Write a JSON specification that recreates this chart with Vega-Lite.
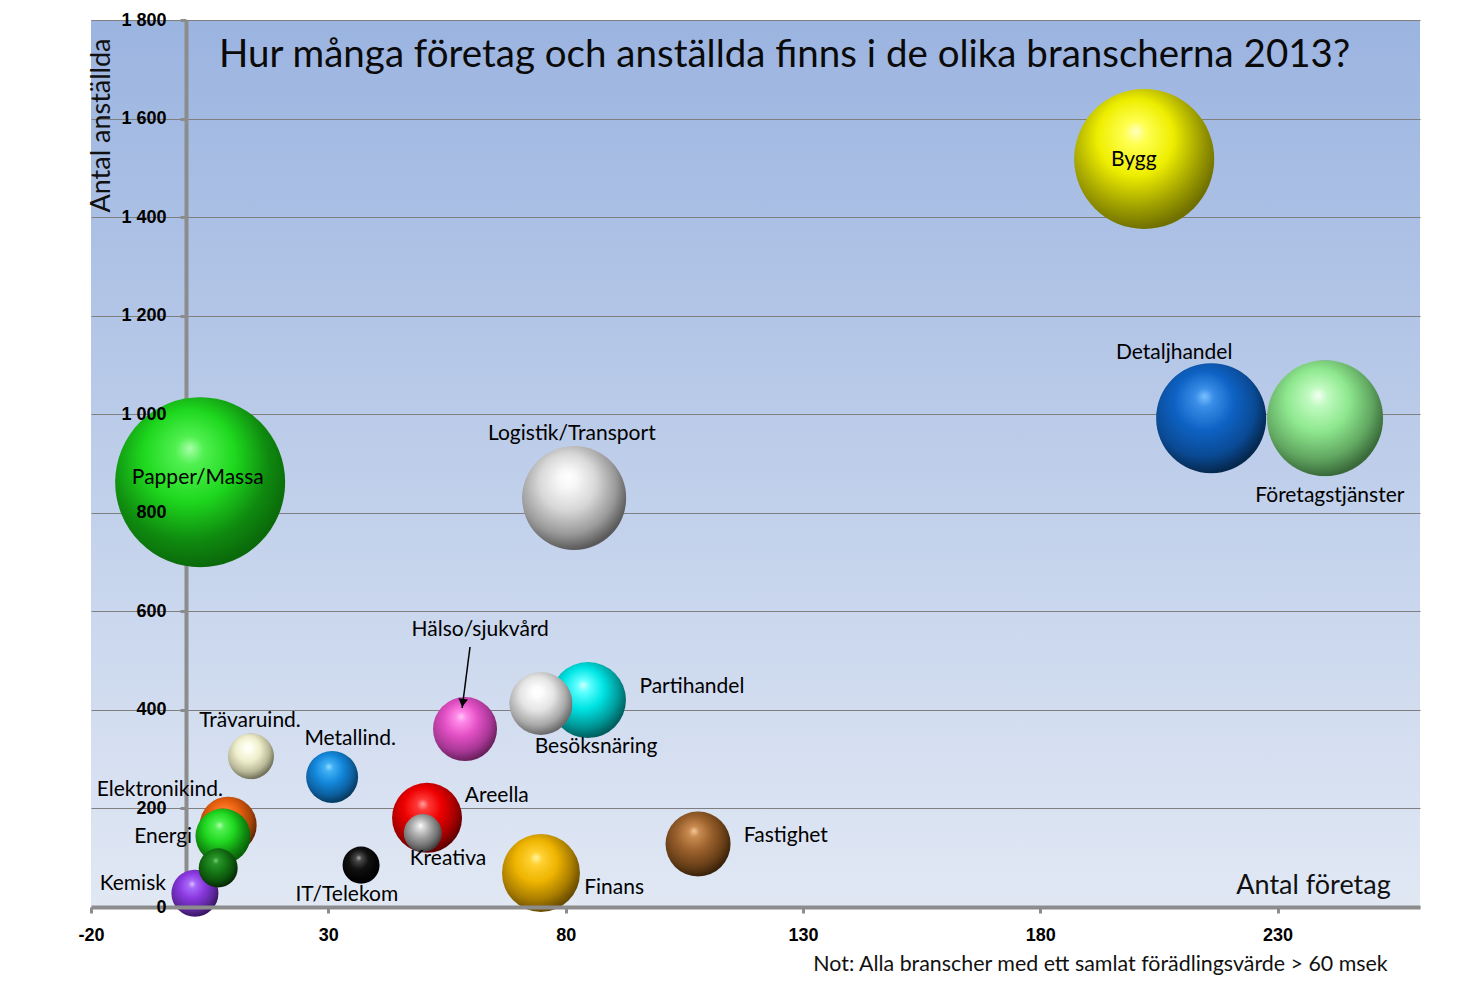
{
  "$schema": "https://vega.github.io/schema/vega-lite/v6.json",
  "width": 1329,
  "height": 887,
  "autosize": {"type": "none"},
  "padding": {"left": 91, "top": 20, "right": 41, "bottom": 86},
  "background": "white",
  "view": {
    "stroke": null,
    "fill": {"gradient": "linear", "x1": 0, "y1": 0, "x2": 0, "y2": 1,
      "stops": [{"offset": 0, "color": "#9bb4e0"}, {"offset": 1, "color": "#e1e8f4"}]}
  },
  "title": {
    "text": "Hur många företag och anställda finns i de olika branscherna 2013?",
    "anchor": "start", "frame": "group", "dx": 128, "dy": 94, "offset": 0, "baseline": "alphabetic",
    "font": "Lato", "fontSize": 38.5, "fontWeight": "normal", "color": "#0a0a0a"
  },
  "config": {"font": "Lato"},
  "params": [
    {"name": "farger", "value": {
      "Papper/Massa": ["#a8ffa8", "#50f050", "#1ed81e", "#0f8a0f", "#0a6a0a"],
      "Bygg": ["#ffffc0", "#ffff50", "#eeee00", "#a0a000", "#707000"],
      "Detaljhandel": ["#7ac0ff", "#3a8ee8", "#0e62c4", "#0a4a94", "#05284f"],
      "Företagstjänster": ["#f4fff4", "#c0fac0", "#8ee88e", "#62a862", "#3a6a3a"],
      "Logistik/Transport": ["#ffffff", "#f8f8f8", "#d8d8d8", "#9a9a9a", "#5a5a5a"],
      "Partihandel": ["#d0ffff", "#60ffff", "#00e4e4", "#009a9a", "#005e5e"],
      "Besöksnäring": ["#ffffff", "#fcfcfc", "#e4e4e4", "#a8a8a8", "#6a6a6a"],
      "Hälso/sjukvård": ["#ffc8f6", "#ff88e8", "#e24fc4", "#a83896", "#6a205e"],
      "Trävaruind.": ["#ffffff", "#fefef0", "#eeeecc", "#b8b898", "#707058"],
      "Metallind.": ["#90dcff", "#40b0f4", "#1488dc", "#0c60a0", "#063a62"],
      "Areella": ["#ffa0a0", "#ff3838", "#ee0000", "#a80000", "#600000"],
      "Kreativa": ["#ffffff", "#dcdcdc", "#a4a4a4", "#707070", "#404040"],
      "Fastighet": ["#f4c898", "#c88a50", "#9a602c", "#6a4018", "#3a220a"],
      "Finans": ["#fff4a0", "#ffd030", "#eeb400", "#a87c00", "#684c00"],
      "IT/Telekom": ["#b0b0b0", "#484848", "#111111", "#050505", "#000000"],
      "Elektronikind.": ["#ffc090", "#ff8030", "#e86010", "#a84408", "#602604"],
      "Energi": ["#b0ffb0", "#50f050", "#20d820", "#108a10", "#086008"],
      "Kemisk": ["#dcc0ff", "#a868f8", "#8a38e0", "#6028a0", "#381660"],
      "Övrigt": ["#80d080", "#2a962a", "#157815", "#0c500c", "#052805"]
    }}
  ],
  "datasets": {
    "branscher": [
      {"bransch": "Papper/Massa", "foretag": 3.0, "anstallda": 862, "varde": 2890, "etikett": "Papper/Massa", "lx": 2.5, "ly": 871},
      {"bransch": "Bygg", "foretag": 201.9, "anstallda": 1518, "varde": 1960, "etikett": "Bygg", "lx": 199.7, "ly": 1516},
      {"bransch": "Detaljhandel", "foretag": 216.0, "anstallda": 992, "varde": 1210, "etikett": "Detaljhandel", "lx": 208.2, "ly": 1124},
      {"bransch": "Företagstjänster", "foretag": 240.0, "anstallda": 992, "varde": 1346, "etikett": "Företagstjänster", "lx": 241.0, "ly": 834},
      {"bransch": "Logistik/Transport", "foretag": 81.8, "anstallda": 830, "varde": 1082, "etikett": "Logistik/Transport", "lx": 81.3, "ly": 960},
      {"bransch": "Partihandel", "foretag": 84.7, "anstallda": 420, "varde": 578, "etikett": "Partihandel", "lx": 106.6, "ly": 446},
      {"bransch": "Besöksnäring", "foretag": 74.8, "anstallda": 413, "varde": 397, "etikett": "Besöksnäring", "lx": 86.4, "ly": 325},
      {"bransch": "Hälso/sjukvård", "foretag": 58.8, "anstallda": 361, "varde": 410, "etikett": "Hälso/sjukvård", "lx": 62.0, "ly": 562},
      {"bransch": "Trävaruind.", "foretag": 13.7, "anstallda": 306, "varde": 212, "etikett": "Trävaruind.", "lx": 13.5, "ly": 377},
      {"bransch": "Metallind.", "foretag": 30.8, "anstallda": 264, "varde": 270, "etikett": "Metallind.", "lx": 34.6, "ly": 341},
      {"bransch": "Areella", "foretag": 50.8, "anstallda": 181, "varde": 490, "etikett": "Areella", "lx": 65.5, "ly": 225},
      {"bransch": "Kreativa", "foretag": 49.9, "anstallda": 150, "varde": 144, "etikett": "Kreativa", "lx": 55.2, "ly": 97},
      {"bransch": "Fastighet", "foretag": 107.9, "anstallda": 128, "varde": 423, "etikett": "Fastighet", "lx": 126.4, "ly": 144},
      {"bransch": "Finans", "foretag": 74.8, "anstallda": 69, "varde": 608, "etikett": "Finans", "lx": 90.2, "ly": 39},
      {"bransch": "IT/Telekom", "foretag": 36.9, "anstallda": 85, "varde": 137, "etikett": "IT/Telekom", "lx": 33.9, "ly": 24},
      {"bransch": "Elektronikind.", "foretag": 8.9, "anstallda": 166, "varde": 325, "etikett": "Elektronikind.", "lx": -5.5, "ly": 237},
      {"bransch": "Energi", "foretag": 7.8, "anstallda": 144, "varde": 302, "etikett": "Energi", "lx": -4.8, "ly": 142},
      {"bransch": "Kemisk", "foretag": 1.9, "anstallda": 28, "varde": 221, "etikett": "Kemisk", "lx": -11.2, "ly": 47},
      {"bransch": "Övrigt", "foretag": 6.8, "anstallda": 79, "varde": 152, "etikett": null, "lx": null, "ly": null}
    ],
    "pil": [
      {"x": 59.85, "y": 527.6, "x2": 58.2, "y2": 403.8, "spets_x": 58.31, "spets_y": 414}
    ]
  },
  "data": {"name": "branscher"},
  "layer": [
    {
      "mark": {
        "type": "circle", "opacity": 1, "strokeWidth": 0,
        "fill": {"expr": "{gradient: 'radial', x1: 0.44, y1: 0.3, r1: 0, x2: 0.43, y2: 0.4, r2: 0.6, stops: [{offset: 0, color: farger[datum.bransch][0]}, {offset: 0.14, color: farger[datum.bransch][1]}, {offset: 0.45, color: farger[datum.bransch][2]}, {offset: 0.78, color: farger[datum.bransch][3]}, {offset: 1, color: farger[datum.bransch][4]}]}"}
      },
      "encoding": {
        "x": {
          "field": "foretag", "type": "quantitative",
          "scale": {"domain": [-20, 260], "nice": false, "zero": false},
          "axis": {
            "orient": "bottom", "values": [-20, 30, 80, 130, 180, 230], "grid": false,
            "labelExpr": "'' + datum.value",
            "domainColor": "#8c8c8c", "domainWidth": 4, "tickColor": "#8c8c8c", "tickWidth": 3, "tickSize": 6,
            "labelFont": "Liberation Sans", "labelFontWeight": "bold", "labelFontSize": 18, "labelColor": "#000000",
            "labelPadding": 13, "labelFlush": false, "labelOverlap": false,
            "title": "Antal företag", "titleX": 1222, "titleY": -22, "titleAlign": "center", "titleBaseline": "middle",
            "titleFont": "Lato", "titleFontSize": 27, "titleFontWeight": "normal", "titleColor": "#111111",
            "zindex": 1
          }
        },
        "y": {
          "field": "anstallda", "type": "quantitative",
          "scale": {"domain": [0, 1800], "nice": false},
          "axis": {
            "orient": "left", "offset": -95, "values": [0, 200, 400, 600, 800, 1000, 1200, 1400, 1600, 1800],
            "grid": true, "gridColor": "#7f7f7f", "gridWidth": 1, "gridOpacity": 1,
            "domainColor": "#8c8c8c", "domainWidth": 4, "tickColor": "#8c8c8c", "tickWidth": 3, "tickSize": 6,
            "labels": false,
            "title": "Antal anställda", "titleX": -85, "titleY": 105, "titleAngle": -90, "titleAlign": "center", "titleBaseline": "middle",
            "titleFont": "Lato", "titleFontSize": 27, "titleFontWeight": "normal", "titleColor": "#111111",
            "zindex": 0
          }
        },
        "size": {"field": "varde", "type": "quantitative", "scale": {"domain": [0, 2890], "range": [0, 28900]}, "legend": null}
      }
    },
    {
      "data": {"name": "pil"},
      "mark": {"type": "rule", "color": "#000000", "strokeWidth": 1.5},
      "encoding": {
        "x": {"field": "x", "type": "quantitative", "axis": null},
        "y": {"field": "y", "type": "quantitative", "axis": null},
        "x2": {"field": "x2"},
        "y2": {"field": "y2"}
      }
    },
    {
      "data": {"name": "pil"},
      "mark": {"type": "point", "shape": "triangle-down", "filled": true, "color": "#000000", "opacity": 1, "size": 90, "angle": 7.5},
      "encoding": {
        "x": {"field": "spets_x", "type": "quantitative", "axis": null},
        "y": {"field": "spets_y", "type": "quantitative", "axis": null}
      }
    },
    {
      "transform": [{"filter": "datum.lx != null"}],
      "mark": {"type": "text", "font": "Lato", "fontSize": 21, "color": "#000000", "align": "center", "baseline": "middle"},
      "encoding": {
        "x": {
          "field": "lx", "type": "quantitative",
          "axis": {
            "orient": "bottom", "domain": false, "ticks": false, "labels": false, "grid": false,
            "title": "Not: Alla branscher med ett samlat förädlingsvärde > 60 msek",
            "titleX": 1009, "titleY": 57, "titleAlign": "center", "titleBaseline": "middle",
            "titleFont": "Lato", "titleFontSize": 21.4, "titleFontWeight": "normal", "titleColor": "#111111"
          }
        },
        "y": {
          "field": "ly", "type": "quantitative",
          "axis": {
            "orient": "left", "offset": -95, "values": [0, 200, 400, 600, 800, 1000, 1200, 1400, 1600, 1800],
            "domain": false, "ticks": false, "tickSize": 0, "grid": false, "title": null,
            "labelExpr": "replace(format(datum.value, ','), ',', ' ')",
            "labelFont": "Liberation Sans", "labelFontWeight": "bold", "labelFontSize": 18, "labelColor": "#000000",
            "labelPadding": 20, "labelFlush": false, "labelOverlap": false, "zindex": 1
          }
        },
        "text": {"field": "etikett"}
      }
    }
  ],
  "resolve": {"axis": {"x": "independent", "y": "independent"}}
}
